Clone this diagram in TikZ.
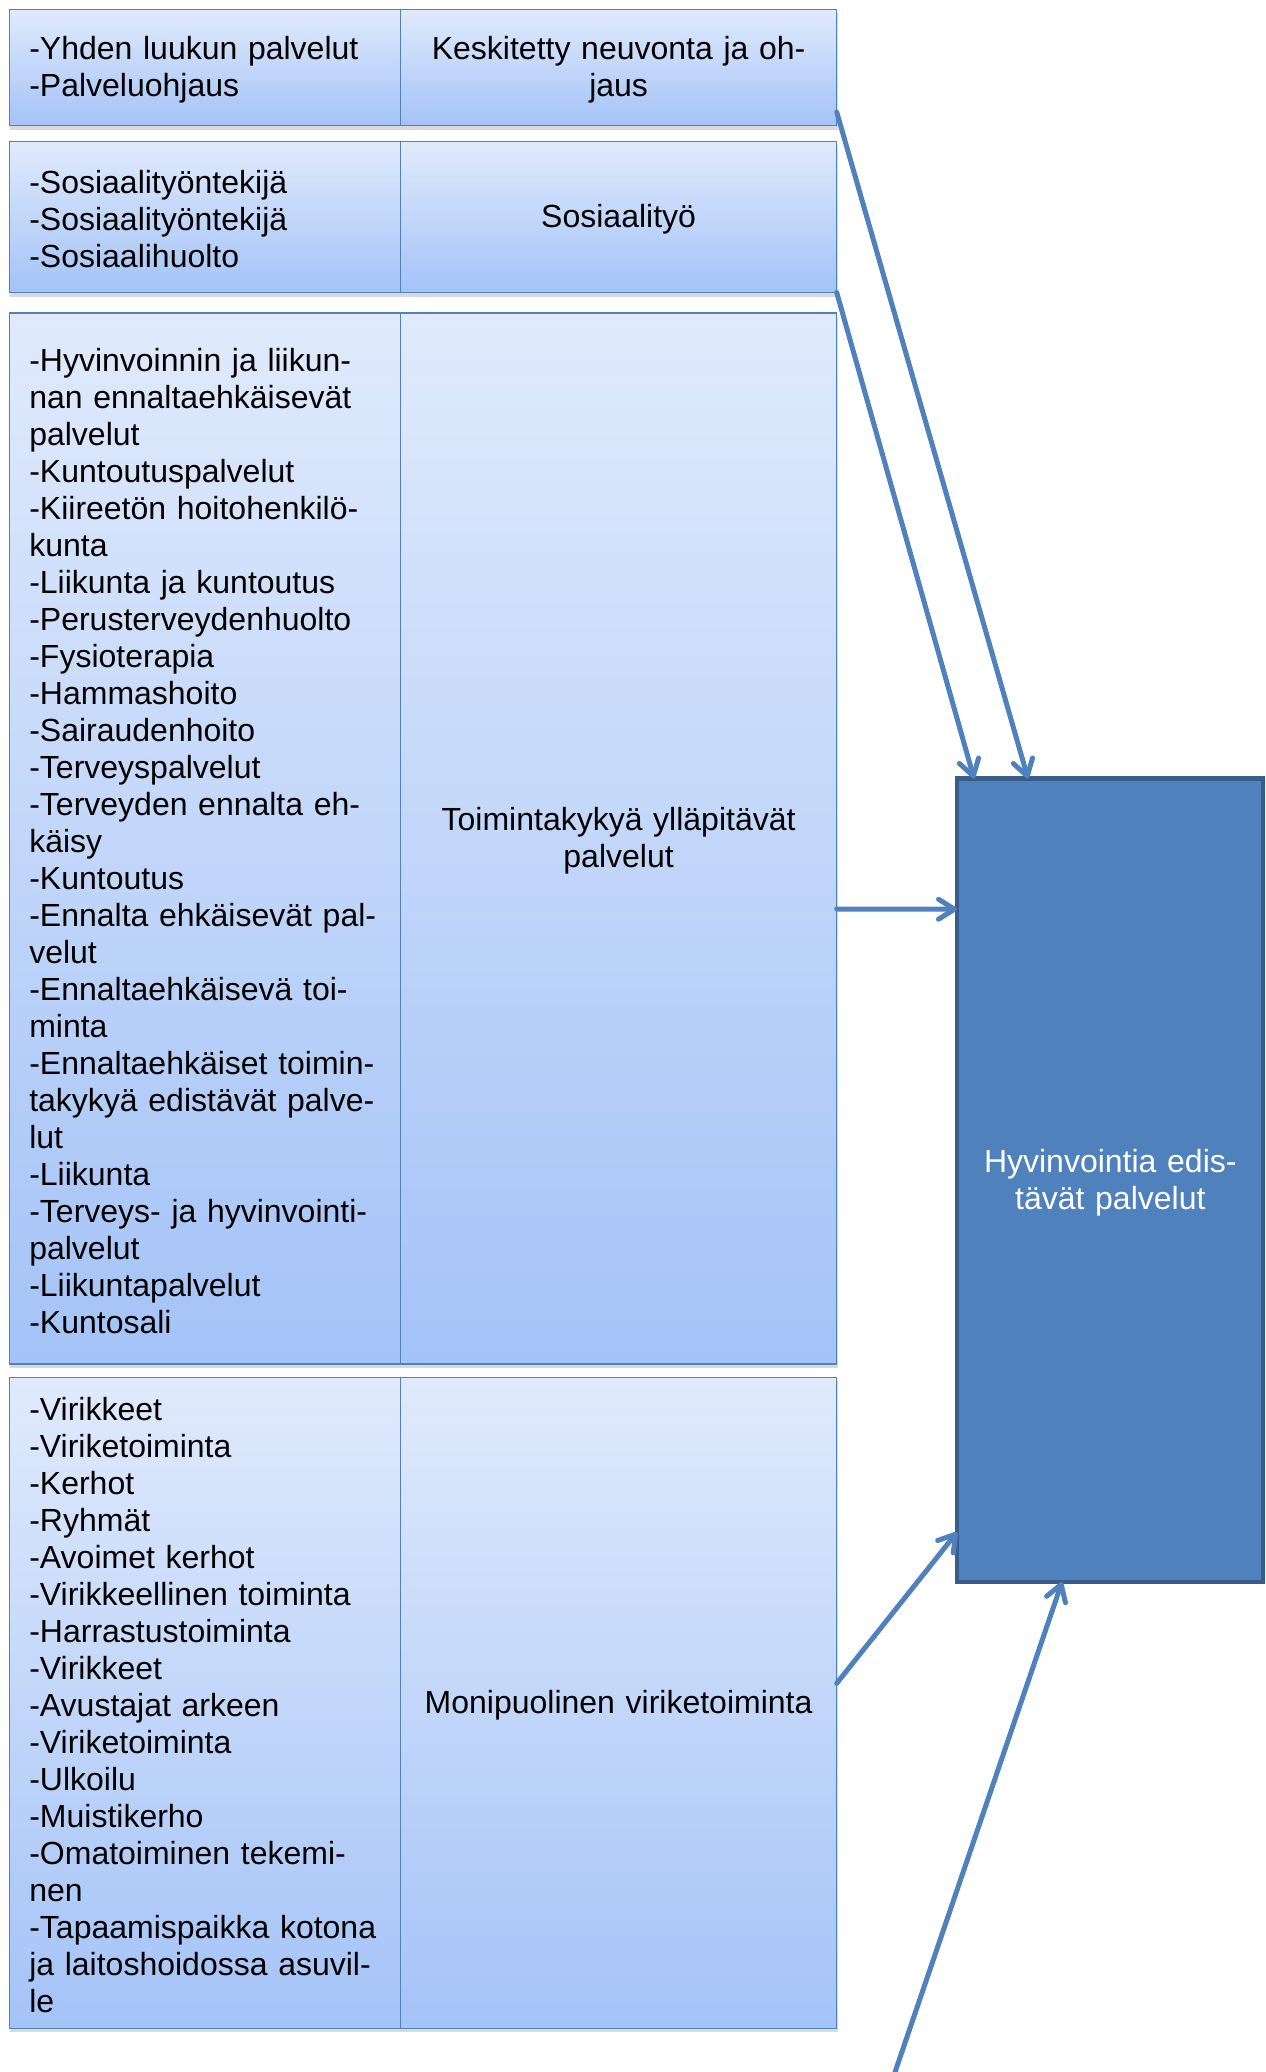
\documentclass[tikz,border=0pt]{standalone}
\usepackage{fontspec}
\setmainfont{Liberation Sans}
\usetikzlibrary{arrows.meta,shadows,positioning}

\definecolor{boxline}{RGB}{79,129,189}
\definecolor{boxtop}{RGB}{224,234,252}
\definecolor{boxbottom}{RGB}{164,195,247}
\definecolor{goalfill}{RGB}{79,129,189}
\definecolor{goalline}{RGB}{56,93,138}

\begin{document}
\begin{tikzpicture}[x=0.5pt,y=-0.5pt]
\tikzstyle{cell} = [rectangle, draw=boxline, line width=0.75pt, top color=boxtop,
bottom color=boxbottom, outer sep=0pt, inner xsep=10pt, inner ysep=4pt,
font=\fontsize{16}{18.5}\selectfont, execute at begin node={\rule{0pt}{14pt}},
drop shadow={shadow xshift=0.4pt, shadow yshift=-2pt, opacity=0.3}]
\tikzstyle{listcell} = [cell, anchor=north west, text width=175.6pt, align=left]
\tikzstyle{namecell} = [cell, text width=198.1pt, align=center]
\tikzstyle{goal} = [rectangle, draw=goalline, line width=2.4pt, fill=goalfill,
text=white, outer sep=0pt, anchor=north west, minimum width=153.3pt,
minimum height=401.75pt, text width=140pt, align=center,
font=\fontsize{16}{18.5}\selectfont, execute at begin node={\rule{0pt}{14pt}}]
\tikzstyle{line} = [draw=boxline, line width=2.5pt, line cap=round,
-{Straight Barb[length=8pt,width=10pt,round]}];

\useasboundingbox (0,0) rectangle (1265,2072);
\clip (0,0) rectangle (1265,2072);

% row 1
\node [listcell, minimum height=58.15pt] (l1) at (9.3,9.3)
{-Yhden luukun palvelut\\-Palveluohjaus};
\node [namecell, minimum height=58.15pt, right=0pt of l1] (r1)
{Keskitetty neuvonta ja oh-\\jaus};
% row 2
\node [listcell, minimum height=75.55pt] (l2) at (9.3,141.4)
{-Sosiaalityöntekijä\\-Sosiaalityöntekijä\\-Sosiaalihuolto};
\node [namecell, minimum height=75.55pt, right=0pt of l2] (r2) {Sosiaalityö};
% row 3
\node [listcell, minimum height=525.5pt] (l3) at (9.3,313)
{-Hyvinvoinnin ja liikun-\\nan ennaltaehkäisevät\\palvelut\\-Kuntoutuspalvelut\\
-Kiireetön hoitohenkilö-\\kunta\\-Liikunta ja kuntoutus\\-Perusterveydenhuolto\\
-Fysioterapia\\-Hammashoito\\-Sairaudenhoito\\-Terveyspalvelut\\
-Terveyden ennalta eh-\\käisy\\-Kuntoutus\\-Ennalta ehkäisevät pal-\\velut\\
-Ennaltaehkäisevä toi-\\minta\\-Ennaltaehkäiset toimin-\\takykyä edistävät palve-\\lut\\
-Liikunta\\-Terveys- ja hyvinvointi-\\palvelut\\-Liikuntapalvelut\\-Kuntosali};
\node [namecell, minimum height=525.5pt, right=0pt of l3] (r3)
{Toimintakykyä ylläpitävät\\palvelut};
% row 4
\node [listcell, minimum height=325.5pt] (l4) at (9.3,1377.3)
{-Virikkeet\\-Viriketoiminta\\-Kerhot\\-Ryhmät\\-Avoimet kerhot\\
-Virikkeellinen toiminta\\-Harrastustoiminta\\-Virikkeet\\-Avustajat arkeen\\
-Viriketoiminta\\-Ulkoilu\\-Muistikerho\\-Omatoiminen tekemi-\\nen\\
-Tapaamispaikka kotona\\ja laitoshoidossa asuvil-\\le};
\node [namecell, minimum height=325.5pt, right=0pt of l4] (r4)
{Monipuolinen viriketoiminta};

\node [goal] (big) at (957,778.5) {Hyvinvointia edis-\\tävät palvelut};
\coordinate (below) at (885.5,2100);

\tikzstyle{every path}=[line]
\path ([yshift=6.8pt]r1.south east) -- ([xshift=35.5pt]big.north west);
\path (r2.south east) -- ([xshift=8.5pt]big.north west);
\path ([yshift=-35.25pt]r3.east) -- ([yshift=135.5pt]big.west);
\path ([yshift=9.75pt]r4.east) -- ([yshift=-176pt]big.west);
\path (below) -- ([xshift=52.5pt]big.south west);

\end{tikzpicture}
\end{document}
